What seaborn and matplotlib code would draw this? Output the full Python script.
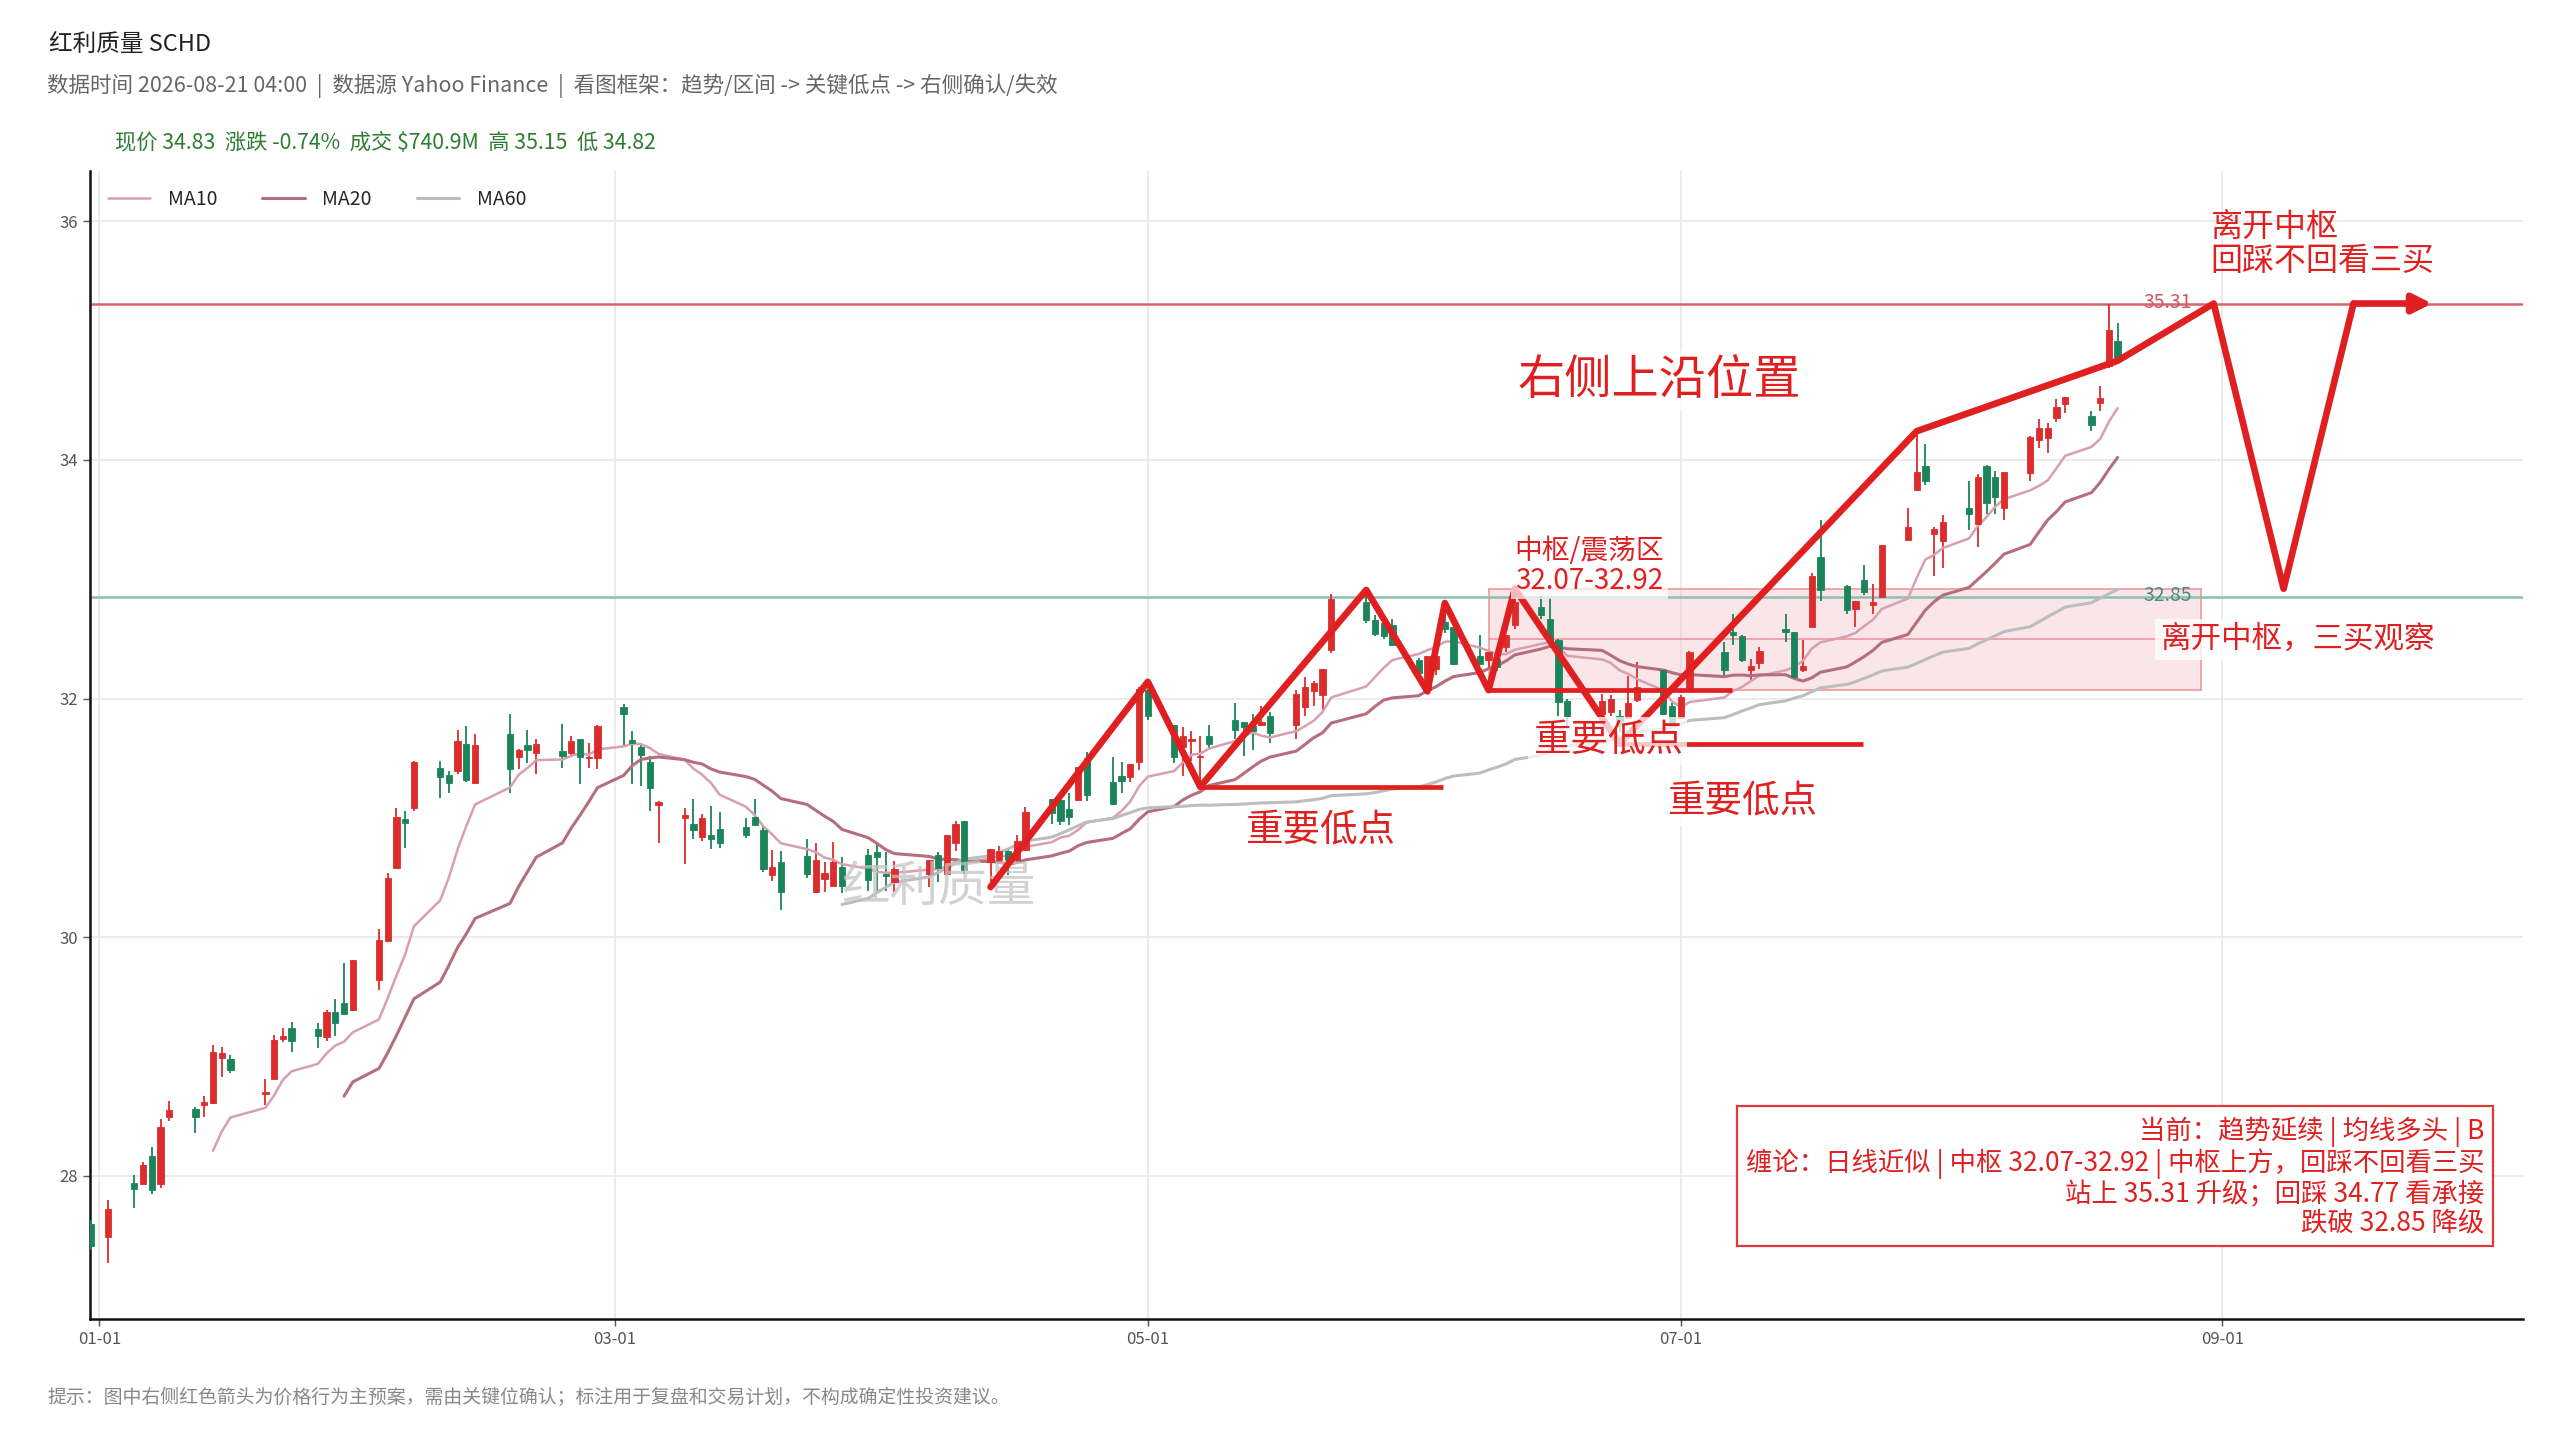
import matplotlib
matplotlib.use("Agg")
import numpy as np
import pandas as pd
import matplotlib.pyplot as plt
import matplotlib.dates as mdates
from matplotlib.patches import Rectangle
import seaborn as sns

# ------------------------------------------------------------------ data
holidays = ["2026-01-01", "2026-01-19", "2026-02-16", "2026-04-03",
            "2026-05-25", "2026-06-19", "2026-07-03"]
trade_dates = pd.bdate_range("2025-12-31", "2026-08-20", freq="C", holidays=holidays)

open_ = [27.60,
         27.49, 27.94, 27.93, 28.17, 27.93, 28.49, 28.56, 28.59, 28.61, 28.99, 28.98, 28.69, 28.81, 29.15, 29.24, 29.23, 29.16, 29.37, 29.45, 29.39,
         29.64, 29.97, 30.58, 30.99, 31.08, 31.42, 31.36, 31.39, 31.62, 31.29, 31.70, 31.51, 31.61, 31.54, 31.56, 31.54, 31.66, 31.50, 31.50,
         31.93, 31.65, 31.59, 31.47, 31.11, 31.00, 30.95, 30.84, 30.86, 30.91, 30.92, 31.01, 30.90, 30.52, 30.63, 30.68, 30.38, 30.49, 30.43, 30.59, 30.69, 30.71,
         30.53, 30.46, 30.53, 30.69, 30.53, 30.79, 30.97, 30.63, 30.65, 30.72, 30.65, 30.73, 31.16, 31.15, 31.07, 31.15, 31.50, 31.30, 31.35, 31.34, 31.47,
         32.07, 31.78, 31.59, 31.64, 31.51, 31.69, 31.82, 31.80, 31.77, 31.78, 31.85, 31.78, 31.93, 32.06, 32.03, 32.41, 32.81, 32.66, 32.63, 32.62,
         32.32, 32.07, 32.25, 32.64, 32.60, 32.36, 32.32, 32.33, 32.43, 32.62, 32.77, 32.67, 32.49, 31.98, 31.87, 31.89, 31.85, 31.84, 31.99, 32.24, 31.94,
         31.84, 32.08, 32.39, 32.56, 32.52, 32.24, 32.30, 32.58, 32.56, 32.24, 32.60, 33.19, 32.94, 32.75, 32.99, 32.78, 32.85, 33.33, 33.75, 33.95, 33.38, 33.32,
         33.60, 33.46, 33.95, 33.86, 33.60, 33.89, 34.17, 34.18, 34.35, 34.47, 34.37, 34.48, 34.79, 35.00]

high = [27.63,
        27.80, 28.01, 28.12, 28.24, 28.48, 28.63, 28.58, 28.67, 29.10, 29.08, 29.01, 28.81, 29.18, 29.24, 29.29, 29.28, 29.39, 29.48, 29.78, 29.81,
        30.07, 30.54, 31.08, 31.06, 31.48, 31.48, 31.39, 31.74, 31.77, 31.70, 31.87, 31.58, 31.74, 31.66, 31.79, 31.69, 31.66, 31.63, 31.78,
        31.95, 31.73, 31.63, 31.52, 31.14, 31.08, 31.16, 31.03, 31.10, 31.05, 31.00, 31.16, 30.93, 30.73, 30.72, 30.82, 30.79, 30.63, 30.80, 30.67, 30.74, 30.80,
        30.71, 30.64, 30.65, 30.71, 30.86, 30.97, 30.97, 30.74, 30.76, 30.73, 30.86, 31.09, 31.16, 31.18, 31.21, 31.43, 31.55, 31.51, 31.47, 31.45, 32.10,
        32.08, 31.78, 31.76, 31.73, 31.69, 31.78, 31.96, 31.80, 31.87, 31.94, 31.89, 32.07, 32.18, 32.15, 32.25, 32.88, 32.90, 32.70, 32.65, 32.67,
        32.34, 32.36, 32.38, 32.70, 32.62, 32.53, 32.41, 32.40, 32.53, 32.88, 32.86, 32.84, 32.50, 32.00, 32.04, 32.03, 31.90, 32.19, 32.31, 32.25, 31.96,
        32.03, 32.40, 32.47, 32.71, 32.53, 32.33, 32.43, 32.71, 32.56, 32.49, 33.05, 33.50, 32.95, 32.82, 33.12, 32.96, 33.29, 33.60, 34.22, 34.13, 33.44, 33.54,
        33.82, 33.88, 33.96, 33.91, 33.90, 34.20, 34.34, 34.31, 34.51, 34.53, 34.41, 34.62, 35.31, 35.15]

low = [27.38,
       27.27, 27.73, 27.93, 27.85, 27.90, 28.46, 28.36, 28.49, 28.60, 28.83, 28.86, 28.59, 28.81, 29.12, 29.04, 29.07, 29.13, 29.17, 29.36, 29.38,
       29.56, 29.96, 30.57, 30.75, 31.06, 31.17, 31.21, 31.37, 31.30, 31.29, 31.21, 31.41, 31.46, 31.37, 31.42, 31.51, 31.28, 31.42, 31.41,
       31.61, 31.28, 31.27, 31.06, 30.79, 30.61, 30.82, 30.81, 30.74, 30.75, 30.83, 30.94, 30.55, 30.47, 30.23, 30.50, 30.37, 30.38, 30.43, 30.37, 30.39, 30.39,
       30.39, 30.38, 30.42, 30.46, 30.52, 30.72, 30.53, 30.40, 30.62, 30.52, 30.62, 30.72, 30.95, 30.94, 30.94, 31.15, 31.14, 31.11, 31.21, 31.30, 31.40,
       31.82, 31.46, 31.35, 31.48, 31.31, 31.58, 31.66, 31.52, 31.57, 31.77, 31.63, 31.66, 31.85, 31.94, 31.90, 32.38, 32.63, 32.52, 32.50, 32.44,
       32.20, 32.06, 32.20, 32.55, 32.28, 32.28, 32.24, 32.23, 32.39, 32.58, 32.67, 32.48, 31.85, 31.77, 31.84, 31.85, 31.72, 31.83, 31.97, 31.87, 31.76,
       31.83, 32.07, 32.17, 32.45, 32.31, 32.15, 32.25, 32.47, 32.18, 32.22, 32.60, 32.82, 32.71, 32.60, 32.87, 32.71, 32.85, 33.33, 33.74, 33.79, 33.03, 33.09,
       33.41, 33.27, 33.55, 33.55, 33.50, 33.82, 34.10, 34.06, 34.32, 34.39, 34.24, 34.41, 34.77, 34.82]

close = [27.41,
         27.72, 27.89, 28.09, 27.88, 28.41, 28.55, 28.49, 28.62, 29.04, 29.03, 28.89, 28.70, 29.14, 29.17, 29.13, 29.17, 29.37, 29.28, 29.36, 29.81,
         29.98, 30.50, 31.01, 30.96, 31.47, 31.34, 31.29, 31.64, 31.32, 31.61, 31.41, 31.57, 31.57, 31.62, 31.52, 31.64, 31.51, 31.51, 31.77,
         31.87, 31.63, 31.53, 31.25, 31.13, 31.02, 30.90, 31.00, 30.82, 30.79, 30.86, 30.94, 30.57, 30.59, 30.38, 30.53, 30.65, 30.54, 30.63, 30.43, 30.48, 30.67,
         30.51, 30.57, 30.65, 30.58, 30.86, 30.95, 30.56, 30.74, 30.72, 30.65, 30.81, 31.05, 31.04, 30.97, 31.01, 31.43, 31.19, 31.12, 31.31, 31.45, 32.08,
         31.85, 31.51, 31.69, 31.66, 31.52, 31.62, 31.74, 31.76, 31.73, 31.80, 31.71, 32.04, 32.10, 32.13, 32.25, 32.83, 32.66, 32.54, 32.52, 32.45,
         32.21, 32.36, 32.36, 32.58, 32.29, 32.29, 32.39, 32.26, 32.53, 32.81, 32.70, 32.49, 31.97, 31.85, 31.98, 32.00, 31.77, 31.96, 32.10, 31.87, 31.77,
         32.01, 32.39, 32.24, 32.53, 32.32, 32.27, 32.40, 32.56, 32.18, 32.27, 33.03, 32.91, 32.74, 32.82, 32.89, 32.81, 33.29, 33.44, 33.90, 33.82, 33.42, 33.48,
         33.55, 33.86, 33.64, 33.69, 33.90, 34.19, 34.27, 34.27, 34.44, 34.53, 34.29, 34.52, 35.09, 34.83]

ma_windows = [10, 20, 60]

# key levels
level_upper = 35.31
level_lower = 32.85
zone_low, zone_high = 32.07, 32.92
zone_start, zone_end = "2026-06-09", "2026-08-29 12:00"

# structure path (historical + projected)
path_dates = ["2026-04-13", "2026-05-01", "2026-05-07", "2026-05-26", "2026-06-02",
              "2026-06-04", "2026-06-09", "2026-06-12", "2026-06-24", "2026-07-28",
              "2026-08-20", "2026-08-31", "2026-09-08", "2026-09-16"]
path_prices = [30.42, 32.14, 31.26, 32.91, 32.06, 32.80, 32.07, 32.92, 31.62, 34.24,
               34.83, 35.31, 32.92, 35.31]
arrow_tip_date = "2026-09-25"

# important lows: (start, end, price)
low_starts = ["2026-05-07", "2026-06-09", "2026-06-24"]
low_ends = ["2026-06-03 20:00", "2026-07-06 20:00", "2026-07-21 20:00"]
low_prices = [31.26, 32.07, 31.62]
low_label_dates = ["2026-05-20 16:00", "2026-06-22 16:00", "2026-07-08 00:00"]
low_label_prices = [30.89, 31.64, 31.13]

info_lines = ["当前：趋势延续 | 均线多头 | B",
              "缠论：日线近似 | 中枢 32.07-32.92 | 中枢上方，回踩不回看三买",
              "站上 35.31 升级；回踩 34.77 看承接",
              "跌破 32.85 降级"]

# ------------------------------------------------------------------ style
RED = "#dc2c2c"
GREEN = "#1a855b"
PATH_RED = "#e02020"
MA_COLORS = {"MA10": "#d7a0af", "MA20": "#b46e7d", "MA60": "#bdbdbd"}
MA_LW = {"MA10": 1.8, "MA20": 2.2, "MA60": 2.2}

sns.set_theme(style="white")
plt.rcParams["font.family"] = ["Noto Sans CJK SC", "DejaVu Sans"]
plt.rcParams["axes.unicode_minus"] = False

df = pd.DataFrame({"date": trade_dates, "open": open_, "high": high,
                   "low": low, "close": close})
for w in ma_windows:
    df[f"MA{w}"] = df["close"].rolling(w, min_periods=w).mean()

fig = plt.figure(figsize=(25.6, 14.4), dpi=100)
ax = fig.add_axes([0.0352, 0.0840, 0.9504, 0.7972])

# zone
zs, ze = mdates.date2num(pd.Timestamp(zone_start)), mdates.date2num(pd.Timestamp(zone_end))
ax.add_patch(Rectangle((zs, zone_low), ze - zs, zone_high - zone_low,
                       facecolor="#f4c2c7", alpha=0.4, edgecolor="none", zorder=1))
for yv in [zone_low, (zone_low + zone_high) / 2, zone_high]:
    ax.plot([zs, ze], [yv, yv], color="#eb8c91", lw=1.3, alpha=0.8, zorder=1.5)
ax.plot([zs, zs], [zone_low, zone_high], color="#eb8c91", lw=1.3, alpha=0.8, zorder=1.5)
ax.plot([ze, ze], [zone_low, zone_high], color="#eb8c91", lw=1.3, alpha=0.8, zorder=1.5)

# reference lines
ax.axhline(level_upper, color="#d9626c", lw=1.8, zorder=2)
ax.axhline(level_lower, color="#8cbeb2", lw=1.8, zorder=2)

# candles
up = df["close"] >= df["open"]
cols = np.where(up, RED, GREEN)
ax.vlines(df["date"], df["low"], df["high"], colors=cols, lw=1.3, zorder=3)
body_bottom = np.minimum(df["open"], df["close"])
body_h = np.maximum((df["close"] - df["open"]).abs(), 0.012)
ax.bar(df["date"], body_h, bottom=body_bottom, width=0.72, color=cols,
       edgecolor=cols, lw=0.6, zorder=4)

# moving averages
for w in ma_windows:
    name = f"MA{w}"
    sns.lineplot(data=df, x="date", y=name, ax=ax, color=MA_COLORS[name],
                 lw=MA_LW[name], label=name, zorder=3.5)

# watermark
ax.text(pd.Timestamp("2026-04-07"), 30.42, "红利质量", fontsize=35, color="#c4c4c4",
        alpha=0.75, ha="center", va="center", zorder=5)

# path
pd_dates = pd.to_datetime(path_dates)
ax.plot(pd_dates, path_prices, color=PATH_RED, lw=4.8, zorder=6,
        solid_capstyle="round", solid_joinstyle="round")
ax.annotate("", xy=(mdates.date2num(pd.Timestamp(arrow_tip_date)), level_upper),
            xytext=(mdates.date2num(pd_dates[-1]), path_prices[-1]),
            arrowprops=dict(arrowstyle="-|>,head_length=0.8,head_width=0.4",
                            color=PATH_RED, lw=4.8, mutation_scale=14,
                            shrinkA=0, shrinkB=0), zorder=6)

# important lows
for s, e, p in zip(low_starts, low_ends, low_prices):
    ax.plot([pd.Timestamp(s), pd.Timestamp(e)], [p, p], color=PATH_RED, lw=3.4,
            zorder=6, solid_capstyle="butt")
wbox = dict(boxstyle="square,pad=0.12", fc="white", ec="none", alpha=0.75)
for d, p in zip(low_label_dates, low_label_prices):
    ax.text(pd.Timestamp(d), p, "重要低点", fontsize=27, color=PATH_RED,
            ha="center", va="center", zorder=7, bbox=wbox)

ax.text(pd.Timestamp("2026-06-28 14:00"), 34.66, "右侧上沿位置", fontsize=34,
        color=PATH_RED, ha="center", va="center", zorder=7, bbox=wbox)
ax.text(pd.Timestamp("2026-06-12"), 32.86, "中枢/震荡区\n32.07-32.92", fontsize=20,
        color=PATH_RED, ha="left", va="bottom", linespacing=1.0, zorder=7,
        bbox=dict(boxstyle="square,pad=0.12", fc="white", ec="none", alpha=0.7))
ax.text(pd.Timestamp("2026-08-23"), level_upper + 0.01, f"{level_upper:.2f}",
        fontsize=14, color="#d05a64", ha="left", va="center", zorder=7)
ax.text(pd.Timestamp("2026-08-23"), level_lower + 0.01, f"{level_lower:.2f}",
        fontsize=14, color="#4d8c7c", ha="left", va="center", zorder=7)
ax.text(pd.Timestamp("2026-08-30 16:00"), 35.53, "离开中枢\n回踩不回看三买", fontsize=23,
        color=PATH_RED, ha="left", va="bottom", linespacing=1.1, zorder=7)
ax.text(pd.Timestamp("2026-08-24 20:00"), 32.495, "离开中枢，三买观察", fontsize=22,
        color=PATH_RED, ha="left", va="center", zorder=7,
        bbox=dict(boxstyle="square,pad=0.15", fc="white", ec="none", alpha=0.8))

# info box
ax.text(0.984, 0.1237, "\n".join(info_lines), transform=ax.transAxes, fontsize=19,
        color=PATH_RED, ha="right", va="center", multialignment="right",
        linespacing=1.1, zorder=8,
        bbox=dict(boxstyle="square,pad=0.32", fc="white", ec="#e03a3a", lw=1.6))

# axes
ax.set_xlim(mdates.date2num(pd.Timestamp("2025-12-30 22:30")),
            mdates.date2num(pd.Timestamp("2026-10-05 10:00")))
ax.set_ylim(26.80, 36.42)
ax.set_yticks([28, 30, 32, 34, 36])
ax.xaxis.set_major_locator(mdates.MonthLocator(bymonth=[1, 3, 5, 7, 9]))
ax.xaxis.set_major_formatter(mdates.DateFormatter("%m-%d"))
ax.grid(True, color="#e8e8e8", lw=1.2, zorder=0)
ax.set_axisbelow(True)
ax.set_xlabel("")
ax.set_ylabel("")
for side in ["top", "right"]:
    ax.spines[side].set_visible(False)
for side in ["left", "bottom"]:
    ax.spines[side].set_color("#111111")
    ax.spines[side].set_linewidth(1.8)
ax.tick_params(axis="both", which="major", labelsize=12, labelcolor="#555555",
               color="#555555", length=5, width=1.0, direction="out",
               bottom=True, left=True)

handles, labels = ax.get_legend_handles_labels()
ax.legend(handles[:3], labels[:3], loc="upper left", ncol=3, frameon=False, fontsize=14,
          handlelength=2.2, handletextpad=0.9, columnspacing=2.3)

# figure texts
fig.text(0.0191, 0.9694, "红利质量 SCHD", fontsize=17, color="#222222", va="center")
fig.text(0.0184, 0.9403,
         "数据时间 2026-08-21 04:00  |  数据源 Yahoo Finance  |  看图框架：趋势/区间 -> 关键低点 -> 右侧确认/失效",
         fontsize=15.5, color="#666666", va="center")
fig.text(0.0449, 0.9007, "现价 34.83  涨跌 -0.74%  成交 $740.9M  高 35.15  低 34.82",
         fontsize=15.3, color="#2e7d32", va="center")
fig.text(0.0184, 0.0299,
         "提示：图中右侧红色箭头为价格行为主预案，需由关键位确认；标注用于复盘和交易计划，不构成确定性投资建议。",
         fontsize=13.6, color="#888888", va="center")

fig.savefig("out.png", dpi=100)
